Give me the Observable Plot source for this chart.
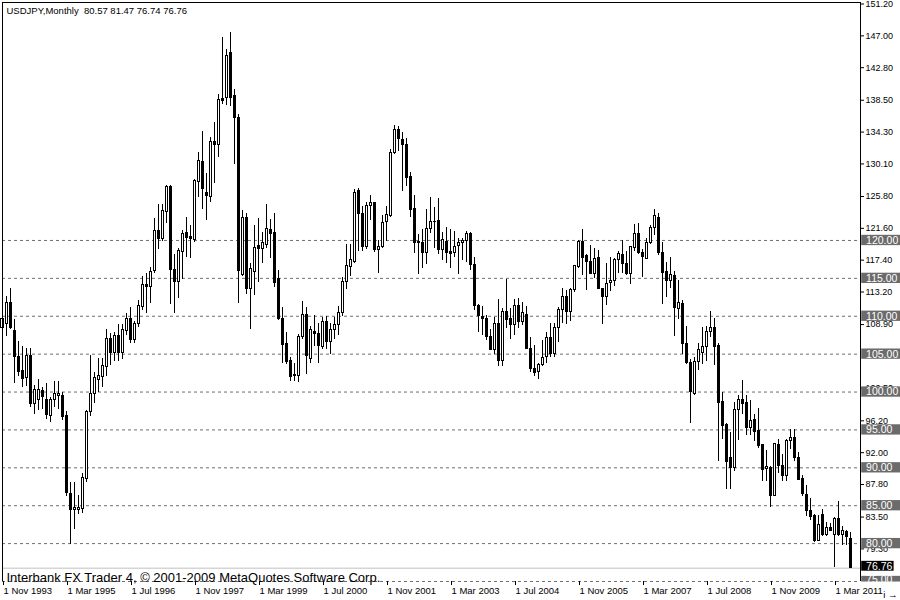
<!DOCTYPE html>
<html>
<head>
<meta charset="utf-8">
<script src="https://cdn.jsdelivr.net/npm/d3@7"></script>
<script src="https://cdn.jsdelivr.net/npm/@observablehq/plot@0.6"></script>
<style>
  html, body { margin: 0; padding: 0; background: #ffffff; }
  #chart { width: 900px; height: 600px; }
</style>
</head>
<body>
<div id="chart"></div>
<script>
// ---- chart identity ----
const symbol = "USDJPY";
const period = "Monthly";
const copyright = "Interbank FX Trader 4, \u00a9 2001-2009 MetaQuotes Software Corp.";

// ---- monthly candles, Nov 1993 .. Jul 2011 (one value per month) ----
const open = [
  108.5, 109.0,
  111.7, 108.0, 104.6, 102.8, 101.8, 104.8, 98.4, 99.0, 100.1, 98.9, 96.9, 98.9,
  99.5, 99.5, 96.8, 86.5, 84.4, 84.5, 84.6, 88.5, 97.4, 99.8, 101.6, 102.0,
  103.3, 107.0, 105.1, 107.4, 105.1, 108.0, 109.7, 106.9, 109.0, 111.2, 114.1, 113.9,
  116.0, 121.2, 120.2, 123.7, 127.0, 116.1, 114.5, 118.5, 121.0, 120.4, 120.1, 127.7,
  130.4, 126.3, 125.8, 133.0, 132.6, 138.7, 138.8, 144.7, 139.0, 136.2, 115.5, 122.9,
  113.6, 115.8, 119.3, 118.9, 119.4, 121.4, 121.0, 114.9, 109.7, 106.3, 104.1, 102.1,
  102.1, 107.2, 110.1, 104.4, 107.9, 107.6, 106.0, 109.3, 106.6, 108.2, 108.8, 110.4,
  114.5, 116.5, 117.1, 126.5, 123.5, 119.1, 124.6, 124.9, 118.7, 119.2, 122.4, 123.2,
  131.5, 134.6, 133.2, 132.6, 128.4, 124.2, 119.6, 119.7, 118.3, 121.5, 122.4, 122.6,
  118.7, 119.8, 118.5, 118.3, 119.3, 119.7, 119.9, 120.8, 116.8, 111.4, 109.9, 109.7,
  107.3, 105.6, 109.0, 104.1, 110.5, 109.6, 108.8, 111.3, 109.3, 110.1, 105.7, 103.0,
  102.6, 103.6, 104.6, 107.1, 105.0, 108.5, 110.8, 112.6, 110.6, 113.4, 116.5, 119.8,
  117.9, 117.2, 115.6, 117.7, 113.6, 112.5, 114.4, 114.6, 117.4, 118.1, 116.9, 115.6,
  119.0, 120.8, 118.4, 117.6, 119.7, 121.7, 123.0, 118.4, 115.8, 114.6, 115.3, 111.0,
  111.6, 106.4, 103.8, 99.8, 103.9, 105.1, 106.0, 107.9, 108.4, 106.1, 98.7, 95.7,
  91.3, 90.0, 97.6, 98.9, 98.5, 95.3, 96.3, 94.8, 93.0, 89.8, 90.0, 86.3,
  93.0, 90.3, 88.9, 93.5, 93.9, 91.3, 88.5, 86.4, 84.3, 83.6, 80.4, 83.8,
  81.2, 82.1, 81.2, 83.2, 81.2, 81.5, 80.57
];
const high = [
  110.0, 112.6,
  113.6, 109.6, 106.7, 106.0, 105.7, 105.8, 100.8, 101.6, 100.6, 101.1, 99.3, 101.4,
  101.4, 99.9, 97.4, 88.0, 88.0, 86.3, 89.3, 97.5, 104.8, 102.6, 104.4, 104.4,
  108.2, 107.7, 107.9, 108.9, 108.9, 110.3, 111.2, 109.3, 112.1, 115.2, 115.7, 116.4,
  122.9, 124.8, 124.8, 127.3, 127.3, 118.2, 119.0, 121.3, 123.0, 122.0, 128.0, 131.6,
  134.4, 128.8, 133.6, 135.5, 139.2, 146.8, 145.2, 147.5, 139.9, 136.6, 124.0, 123.5,
  117.0, 122.0, 122.9, 121.0, 124.8, 122.8, 123.5, 116.0, 111.2, 107.9, 104.5, 103.7,
  107.6, 111.9, 111.1, 108.6, 110.1, 109.1, 109.9, 110.0, 109.0, 109.9, 111.3, 115.1,
  119.5, 119.5, 126.7, 126.8, 124.5, 125.0, 125.9, 124.9, 120.0, 123.3, 124.5, 132.0,
  135.2, 135.0, 134.2, 133.5, 129.0, 125.9, 120.8, 121.4, 124.1, 125.7, 124.3, 125.6,
  121.0, 121.7, 121.4, 121.2, 120.3, 120.2, 121.2, 121.0, 117.7, 111.6, 111.3, 110.1,
  108.2, 109.8, 112.2, 111.0, 114.8, 111.0, 112.2, 112.3, 111.8, 111.3, 107.2, 106.2,
  103.7, 106.8, 107.8, 109.0, 109.0, 111.1, 113.6, 113.4, 113.7, 116.7, 120.0, 121.4,
  118.2, 119.3, 119.0, 118.7, 113.6, 116.9, 117.8, 117.6, 118.5, 120.0, 118.6, 119.2,
  122.1, 122.2, 118.8, 120.2, 122.0, 124.1, 123.6, 119.7, 117.1, 117.8, 115.9, 114.7,
  112.1, 108.6, 104.3, 104.6, 106.4, 108.5, 108.6, 110.6, 109.7, 106.4, 100.0, 95.9,
  94.7, 98.6, 99.6, 101.5, 99.6, 98.9, 97.0, 97.8, 93.0, 92.3, 90.2, 93.2,
  93.8, 91.8, 93.7, 95.0, 95.1, 92.0, 89.0, 87.7, 85.9, 83.9, 83.7, 84.5,
  82.8, 82.7, 83.4, 85.5, 82.3, 81.7, 81.47
];
const low = [
  105.5, 107.3,
  108.2, 101.1, 102.0, 100.6, 100.7, 98.0, 97.0, 97.6, 97.7, 96.4, 96.0, 97.9,
  97.7, 96.3, 86.2, 79.9, 81.8, 83.9, 84.0, 88.0, 96.8, 98.5, 100.0, 100.6,
  102.0, 103.5, 104.0, 104.0, 104.3, 107.4, 106.4, 106.4, 108.5, 110.8, 110.4, 111.7,
  115.6, 118.8, 119.8, 122.2, 111.6, 110.3, 112.3, 114.8, 117.8, 117.6, 119.7, 125.7,
  124.1, 122.6, 125.0, 127.5, 131.0, 137.9, 137.8, 137.7, 130.0, 111.7, 115.2, 112.9,
  108.3, 112.8, 114.5, 117.0, 119.0, 117.6, 113.8, 109.5, 103.7, 103.6, 101.4, 101.4,
  101.3, 106.9, 102.3, 103.8, 106.0, 103.8, 105.6, 105.6, 105.0, 106.9, 107.4, 110.0,
  113.5, 115.2, 116.9, 118.5, 118.5, 118.8, 122.6, 118.4, 115.7, 118.9, 119.8, 123.0,
  131.3, 131.7, 126.4, 127.1, 123.0, 118.3, 115.5, 116.3, 116.8, 120.9, 119.0, 118.1,
  117.4, 116.9, 116.3, 117.7, 115.5, 117.3, 117.1, 116.0, 110.8, 107.8, 107.4, 106.8,
  105.5, 105.0, 103.4, 103.4, 108.4, 106.9, 107.4, 108.4, 108.8, 105.7, 102.6, 102.0,
  101.7, 103.4, 103.8, 104.6, 104.6, 106.5, 109.0, 108.9, 109.3, 113.2, 116.3, 115.4,
  113.4, 115.5, 115.0, 113.6, 108.9, 111.4, 113.3, 113.9, 115.7, 115.6, 115.4, 114.2,
  118.5, 118.1, 115.1, 117.5, 119.5, 120.6, 118.0, 111.6, 112.5, 113.7, 107.3, 109.6,
  105.0, 103.6, 95.8, 99.6, 102.8, 103.6, 104.0, 107.2, 103.5, 90.8, 93.7, 87.1,
  87.1, 89.5, 93.6, 97.0, 94.3, 94.3, 93.5, 92.6, 88.2, 88.2, 84.8, 86.2,
  89.2, 88.2, 88.2, 92.4, 90.9, 88.3, 86.2, 83.6, 83.1, 80.2, 80.3, 81.0,
  81.0, 81.6, 76.9, 81.0, 79.7, 79.7, 76.74
];
const close = [
  109.6, 111.8,
  108.5, 104.6, 102.7, 101.7, 104.8, 98.4, 100.3, 100.3, 99.4, 97.0, 98.9, 99.8,
  99.7, 96.7, 86.7, 84.5, 84.7, 84.7, 88.6, 97.4, 99.8, 101.9, 102.1, 103.5,
  107.0, 105.1, 107.4, 105.1, 108.2, 109.7, 106.9, 109.0, 111.4, 114.1, 113.9, 115.9,
  121.3, 120.2, 123.9, 127.0, 116.1, 114.5, 118.6, 120.8, 120.3, 120.2, 127.8, 130.5,
  126.8, 125.9, 133.0, 132.6, 138.6, 138.4, 144.4, 138.8, 136.2, 116.0, 122.9, 113.6,
  116.3, 119.0, 118.9, 119.6, 121.5, 120.8, 114.4, 109.7, 106.2, 104.0, 102.0, 102.2,
  107.2, 110.1, 104.8, 108.2, 107.6, 106.1, 109.3, 106.6, 108.2, 108.9, 110.4, 114.5,
  116.6, 117.4, 126.3, 123.5, 119.1, 124.6, 124.9, 118.8, 119.1, 122.3, 123.4, 131.6,
  134.6, 133.4, 132.6, 128.3, 124.0, 119.6, 119.8, 118.3, 121.5, 122.5, 122.5, 118.7,
  120.0, 118.3, 118.2, 119.1, 119.7, 119.9, 120.8, 116.8, 111.4, 110.0, 109.6, 107.2,
  105.6, 109.0, 104.1, 110.6, 109.5, 108.8, 111.4, 109.3, 110.4, 105.7, 103.0, 102.5,
  103.6, 104.5, 107.1, 105.0, 108.5, 110.8, 112.5, 110.6, 113.5, 116.6, 119.8, 117.7,
  117.1, 115.6, 117.5, 113.6, 112.5, 114.3, 114.7, 117.4, 118.2, 116.9, 115.6, 119.1,
  120.8, 118.4, 117.8, 119.6, 121.7, 123.2, 118.3, 115.7, 114.6, 115.4, 111.1, 111.7,
  106.3, 103.8, 100.0, 103.9, 105.5, 106.0, 107.9, 108.5, 106.0, 98.5, 95.5, 90.8,
  90.0, 97.6, 98.9, 98.4, 95.2, 96.2, 94.7, 92.9, 89.7, 90.1, 86.3, 93.2,
  90.2, 88.9, 93.6, 93.9, 91.3, 88.4, 86.5, 84.3, 83.5, 80.4, 82.5, 81.2,
  82.1, 81.7, 83.2, 81.2, 81.6, 80.9, 76.76
];

// ---- axes ----
const priceTicks = [151.2, 147.0, 142.8, 138.5, 134.3, 130.1, 125.8, 121.6, 117.4, 113.2,
                    108.9, 100.5, 96.2, 92.0, 87.8, 83.5, 79.3];
const levels = [120, 115, 110, 105, 100, 95, 90, 85, 80, 75];
const bid = 76.76;
const dateTickIdx = [0, 16, 32, 48, 64, 80, 96, 112, 128, 144, 160, 176, 192, 208];
const dateTickLabels = ["1 Nov 1993", "1 Mar 1995", "1 Jul 1996", "1 Nov 1997", "1 Mar 1999",
  "1 Jul 2000", "1 Nov 2001", "1 Mar 2003", "1 Jul 2004", "1 Nov 2005", "1 Mar 2007",
  "1 Jul 2008", "1 Nov 2009", "1 Mar 2011"];

const xDomain = [0, 214.5];
const yDomain = [75, 151.4];

const candles = open.map((o, i) => ({i, open: o, high: high[i], low: low[i], close: close[i]}));
const bullish = candles.filter(d => d.close > d.open);
const last = open.length - 1;
const title = `${symbol},${period}\u00a0 ${open[last].toFixed(2)} ${high[last].toFixed(2)} ${low[last].toFixed(2)} ${close[last].toFixed(2)}`;
const xr = xDomain[1];

const chart = Plot.plot({
  width: 900,
  height: 600,
  marginLeft: 2,
  marginRight: 40,
  marginTop: 2,
  marginBottom: 19,
  style: {background: "#ffffff", color: "#000000", fontFamily: "'Liberation Sans', Arial, sans-serif", fontSize: "9.5px"},
  x: {type: "linear", domain: xDomain, axis: null},
  y: {type: "linear", domain: yDomain, axis: null},
  marks: [
    Plot.ruleY(levels, {stroke: "#6e6e6e", strokeDasharray: "3,3"}),
    Plot.ruleY([bid], {stroke: "#c0c0c0"}),
    // wicks
    Plot.ruleX(candles, {x: "i", y1: "low", y2: "high", stroke: "#000000", shapeRendering: "crispEdges"}),
    // candle bodies: black 3px block, white 1px interior for rising months
    Plot.rect(candles, {
      x1: d => d.i - 0.375, x2: d => d.i + 0.375,
      y1: "open", y2: "close",
      fill: "#000000", insetTop: -0.5, insetBottom: -0.5,
      shapeRendering: "crispEdges"
    }),
    Plot.rect(bullish, {
      x1: d => d.i - 0.125, x2: d => d.i + 0.125,
      y1: "open", y2: "close",
      fill: "#ffffff", insetTop: 0.5, insetBottom: 0.5,
      shapeRendering: "crispEdges"
    }),
    // frame: left, top, right
    Plot.ruleX([xDomain[0], xDomain[1]], {stroke: "#000000"}),
    Plot.ruleY([yDomain[1]], {stroke: "#000000"}),
    // right price scale
    Plot.axisY({anchor: "right", ticks: priceTicks, tickFormat: d => d.toFixed(2), tickSize: 3, tickPadding: 2, fontSize: 9}),
    // level labels
    Plot.rect(levels, {x1: xr + 0.3, x2: xr + 10, y1: d => d - 0.68, y2: d => d + 0.68, fill: "#6b6b6b"}),
    Plot.text(levels, {x: xr + 1.4, y: d => d === 75 ? d + 0.3 : d, text: d => d.toFixed(2), fill: "#ffffff", textAnchor: "start", fontSize: 10.5}),
    Plot.rect([bid], {x1: xr + 0.3, x2: xr + 8.4, y1: d => d - 0.4, y2: d => d + 0.9, fill: "#000000"}),
    Plot.text([bid], {x: xr + 1.4, y: d => d + 0.25, text: d => d.toFixed(2), fill: "#ffffff", textAnchor: "start", fontSize: 10.5}),
    // mask below the price area
    Plot.rect([0], {x1: xr + 0.2, x2: xr + 11, y1: yDomain[0] - 0.07, y2: yDomain[0] - 3, fill: "#ffffff"}),
    // date scale
    Plot.axisX({anchor: "bottom", ticks: dateTickIdx, tickFormat: d => dateTickLabels[dateTickIdx.indexOf(d)], textAnchor: "start", tickSize: 4, tickPadding: 2, dx: 1, fontSize: 9.5}),
    // header and footer text
    Plot.text([title], {frameAnchor: "top-left", text: d => d, dx: 4, dy: 5, lineAnchor: "top", textAnchor: "start", fontSize: 9.5, fill: "#000000"}),
    Plot.text([copyright], {frameAnchor: "bottom-left", text: d => d, dx: 4, dy: 0, lineAnchor: "bottom", textAnchor: "start", fontSize: 13, fill: "#000000"})
  ]
});
document.getElementById("chart").appendChild(chart);
</script>
</body>
</html>
